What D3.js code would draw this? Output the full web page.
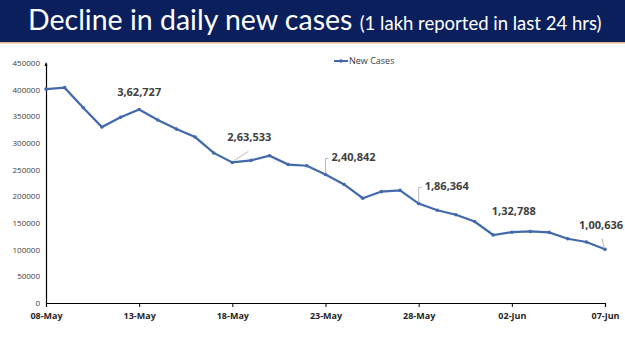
<!DOCTYPE html>
<html>
<head>
<meta charset="utf-8">
<script src="https://cdn.jsdelivr.net/npm/d3@7"></script>
<style>
  body { margin: 0; background: #fff; }
  svg { display: block; }
</style>
</head>
<body>
<div id="chart"></div>
<script>
// Daily new cases, 08-May to 07-Jun
const dates = ["2021-05-08","2021-05-09","2021-05-10","2021-05-11","2021-05-12","2021-05-13","2021-05-14",
  "2021-05-15","2021-05-16","2021-05-17","2021-05-18","2021-05-19","2021-05-20","2021-05-21","2021-05-22",
  "2021-05-23","2021-05-24","2021-05-25","2021-05-26","2021-05-27","2021-05-28","2021-05-29","2021-05-30",
  "2021-05-31","2021-06-01","2021-06-02","2021-06-03","2021-06-04","2021-06-05","2021-06-06","2021-06-07"];
const newCases = [401078, 403738, 366161, 329942, 348421, 362727, 343144, 326098, 311170, 281386, 263533,
  267334, 276110, 259551, 257299, 240842, 222315, 196427, 208921, 211298, 186364, 173790, 165553, 152734,
  127510, 132788, 134154, 132364, 120529, 114460, 100636];
const yTicks = [0, 50000, 100000, 150000, 200000, 250000, 300000, 350000, 400000, 450000];
const xTickDates = ["2021-05-08","2021-05-13","2021-05-18","2021-05-23","2021-05-28","2021-06-02","2021-06-07"];
// labelled points: index, label text, label offset (dx, dy), leader line kind
const callouts = [
  { i: 5,  text: "3,62,727", dx: 0,  dy: -14, leader: null },
  { i: 10, text: "2,63,533", dx: 17, dy: -21, leader: "diag" },
  { i: 15, text: "2,40,842", dx: 28, dy: -14, leader: "bracket" },
  { i: 20, text: "1,86,364", dx: 28, dy: -14, leader: "bracket" },
  { i: 25, text: "1,32,788", dx: 2,  dy: -17, leader: null },
  { i: 30, text: "1,00,636", dx: -4, dy: -20, leader: "diag" }
];

const width = 625, height = 351;
const margin = { top: 63, right: 20, bottom: 48, left: 46 };

const parse = d3.timeParse("%Y-%m-%d");
const data = dates.map((d, i) => ({ date: parse(d), value: newCases[i] }));

const svg = d3.select("#chart").append("svg")
  .attr("width", width)
  .attr("height", height);

// title bar
svg.append("rect")
  .attr("x", 0).attr("y", 0)
  .attr("width", width).attr("height", 42)
  .attr("fill", "#0b1f5c");
svg.append("rect")
  .attr("x", 0).attr("y", 42)
  .attr("width", width).attr("height", 1.5)
  .attr("fill", "#e3b48f");

const title = svg.append("text")
  .attr("x", 28).attr("y", 30)
  .attr("fill", "#fff")
  .style("font-family", "Lato, 'Open Sans', sans-serif");
title.append("tspan").style("font-size", "28.5px").text("Decline in daily new cases ");
title.append("tspan").style("font-size", "18.5px").text("(1 lakh reported in last 24 hrs)");

const x = d3.scaleTime()
  .domain([parse(dates[0]), parse(dates[dates.length - 1])])
  .range([margin.left, 605]);

const y = d3.scaleLinear()
  .domain([0, 450000])
  .range([303, margin.top]);

// y axis
const yAxis = svg.append("g")
  .attr("transform", `translate(${margin.left},0)`)
  .call(d3.axisLeft(y).tickValues(yTicks).tickSize(0).tickPadding(6).tickFormat(d3.format("d")));
yAxis.select(".domain").attr("stroke", "#000").attr("stroke-width", 1.2);
yAxis.selectAll("text")
  .attr("fill", "#404040")
  .style("font-family", "'Open Sans', sans-serif")
  .style("font-size", "8px");
// small mark at axis top
svg.append("path")
  .attr("d", `M${margin.left - 1.5},${margin.top + 3}L${margin.left},${margin.top - 1}L${margin.left + 1.5},${margin.top + 3}Z`)
  .attr("fill", "#000");

// x axis
const xAxis = svg.append("g")
  .attr("transform", `translate(0,${y(0)})`)
  .call(d3.axisBottom(x)
    .tickValues(xTickDates.map(parse))
    .tickSize(4)
    .tickPadding(6)
    .tickFormat(d3.timeFormat("%d-%b")));
xAxis.select(".domain").attr("stroke", "#000").attr("stroke-width", 1.2);
xAxis.selectAll("line").attr("stroke", "#000");
xAxis.selectAll("text")
  .attr("fill", "#262626")
  .style("font-family", "'Open Sans', sans-serif")
  .style("font-weight", "bold")
  .style("font-size", "9px");

const lineColor = "#4169ab";

// line
svg.append("path")
  .datum(data)
  .attr("fill", "none")
  .attr("stroke", lineColor)
  .attr("stroke-width", 2.2)
  .attr("d", d3.line().x(d => x(d.date)).y(d => y(d.value)));

svg.selectAll("circle.pt")
  .data(data)
  .enter().append("circle")
  .attr("class", "pt")
  .attr("cx", d => x(d.date))
  .attr("cy", d => y(d.value))
  .attr("r", 1.8)
  .attr("fill", lineColor);

// callouts
callouts.forEach(c => {
  const px = x(data[c.i].date), py = y(data[c.i].value);
  const lx = px + c.dx, ly = py + c.dy;
  if (c.leader === "diag") {
    svg.append("line")
      .attr("x1", px + (c.dx > 0 ? 2 : -1)).attr("y1", py - 2)
      .attr("x2", px + (c.dx > 0 ? 16 : -3)).attr("y2", py - 11)
      .attr("stroke", "#a6a6a6").attr("stroke-width", 0.8);
  } else if (c.leader === "bracket") {
    svg.append("path")
      .attr("d", `M${px},${py - 1}V${py - 16}H${px + 3}`)
      .attr("fill", "none")
      .attr("stroke", "#a6a6a6").attr("stroke-width", 0.8);
  }
  svg.append("text")
    .attr("x", lx).attr("y", ly)
    .attr("text-anchor", "middle")
    .attr("fill", "#404040")
    .style("font-family", "'Open Sans', sans-serif")
    .style("font-weight", "bold")
    .style("font-size", "11px")
    .text(c.text);
});

// legend
svg.append("line")
  .attr("x1", 334).attr("x2", 348)
  .attr("y1", 61).attr("y2", 61)
  .attr("stroke", lineColor).attr("stroke-width", 2);
svg.append("circle")
  .attr("cx", 341).attr("cy", 61).attr("r", 1.8).attr("fill", lineColor);
svg.append("text")
  .attr("x", 349).attr("y", 64)
  .attr("fill", "#404040")
  .style("font-family", "'Open Sans', sans-serif")
  .style("font-size", "9px")
  .text("New Cases");
</script>
</body>
</html>
